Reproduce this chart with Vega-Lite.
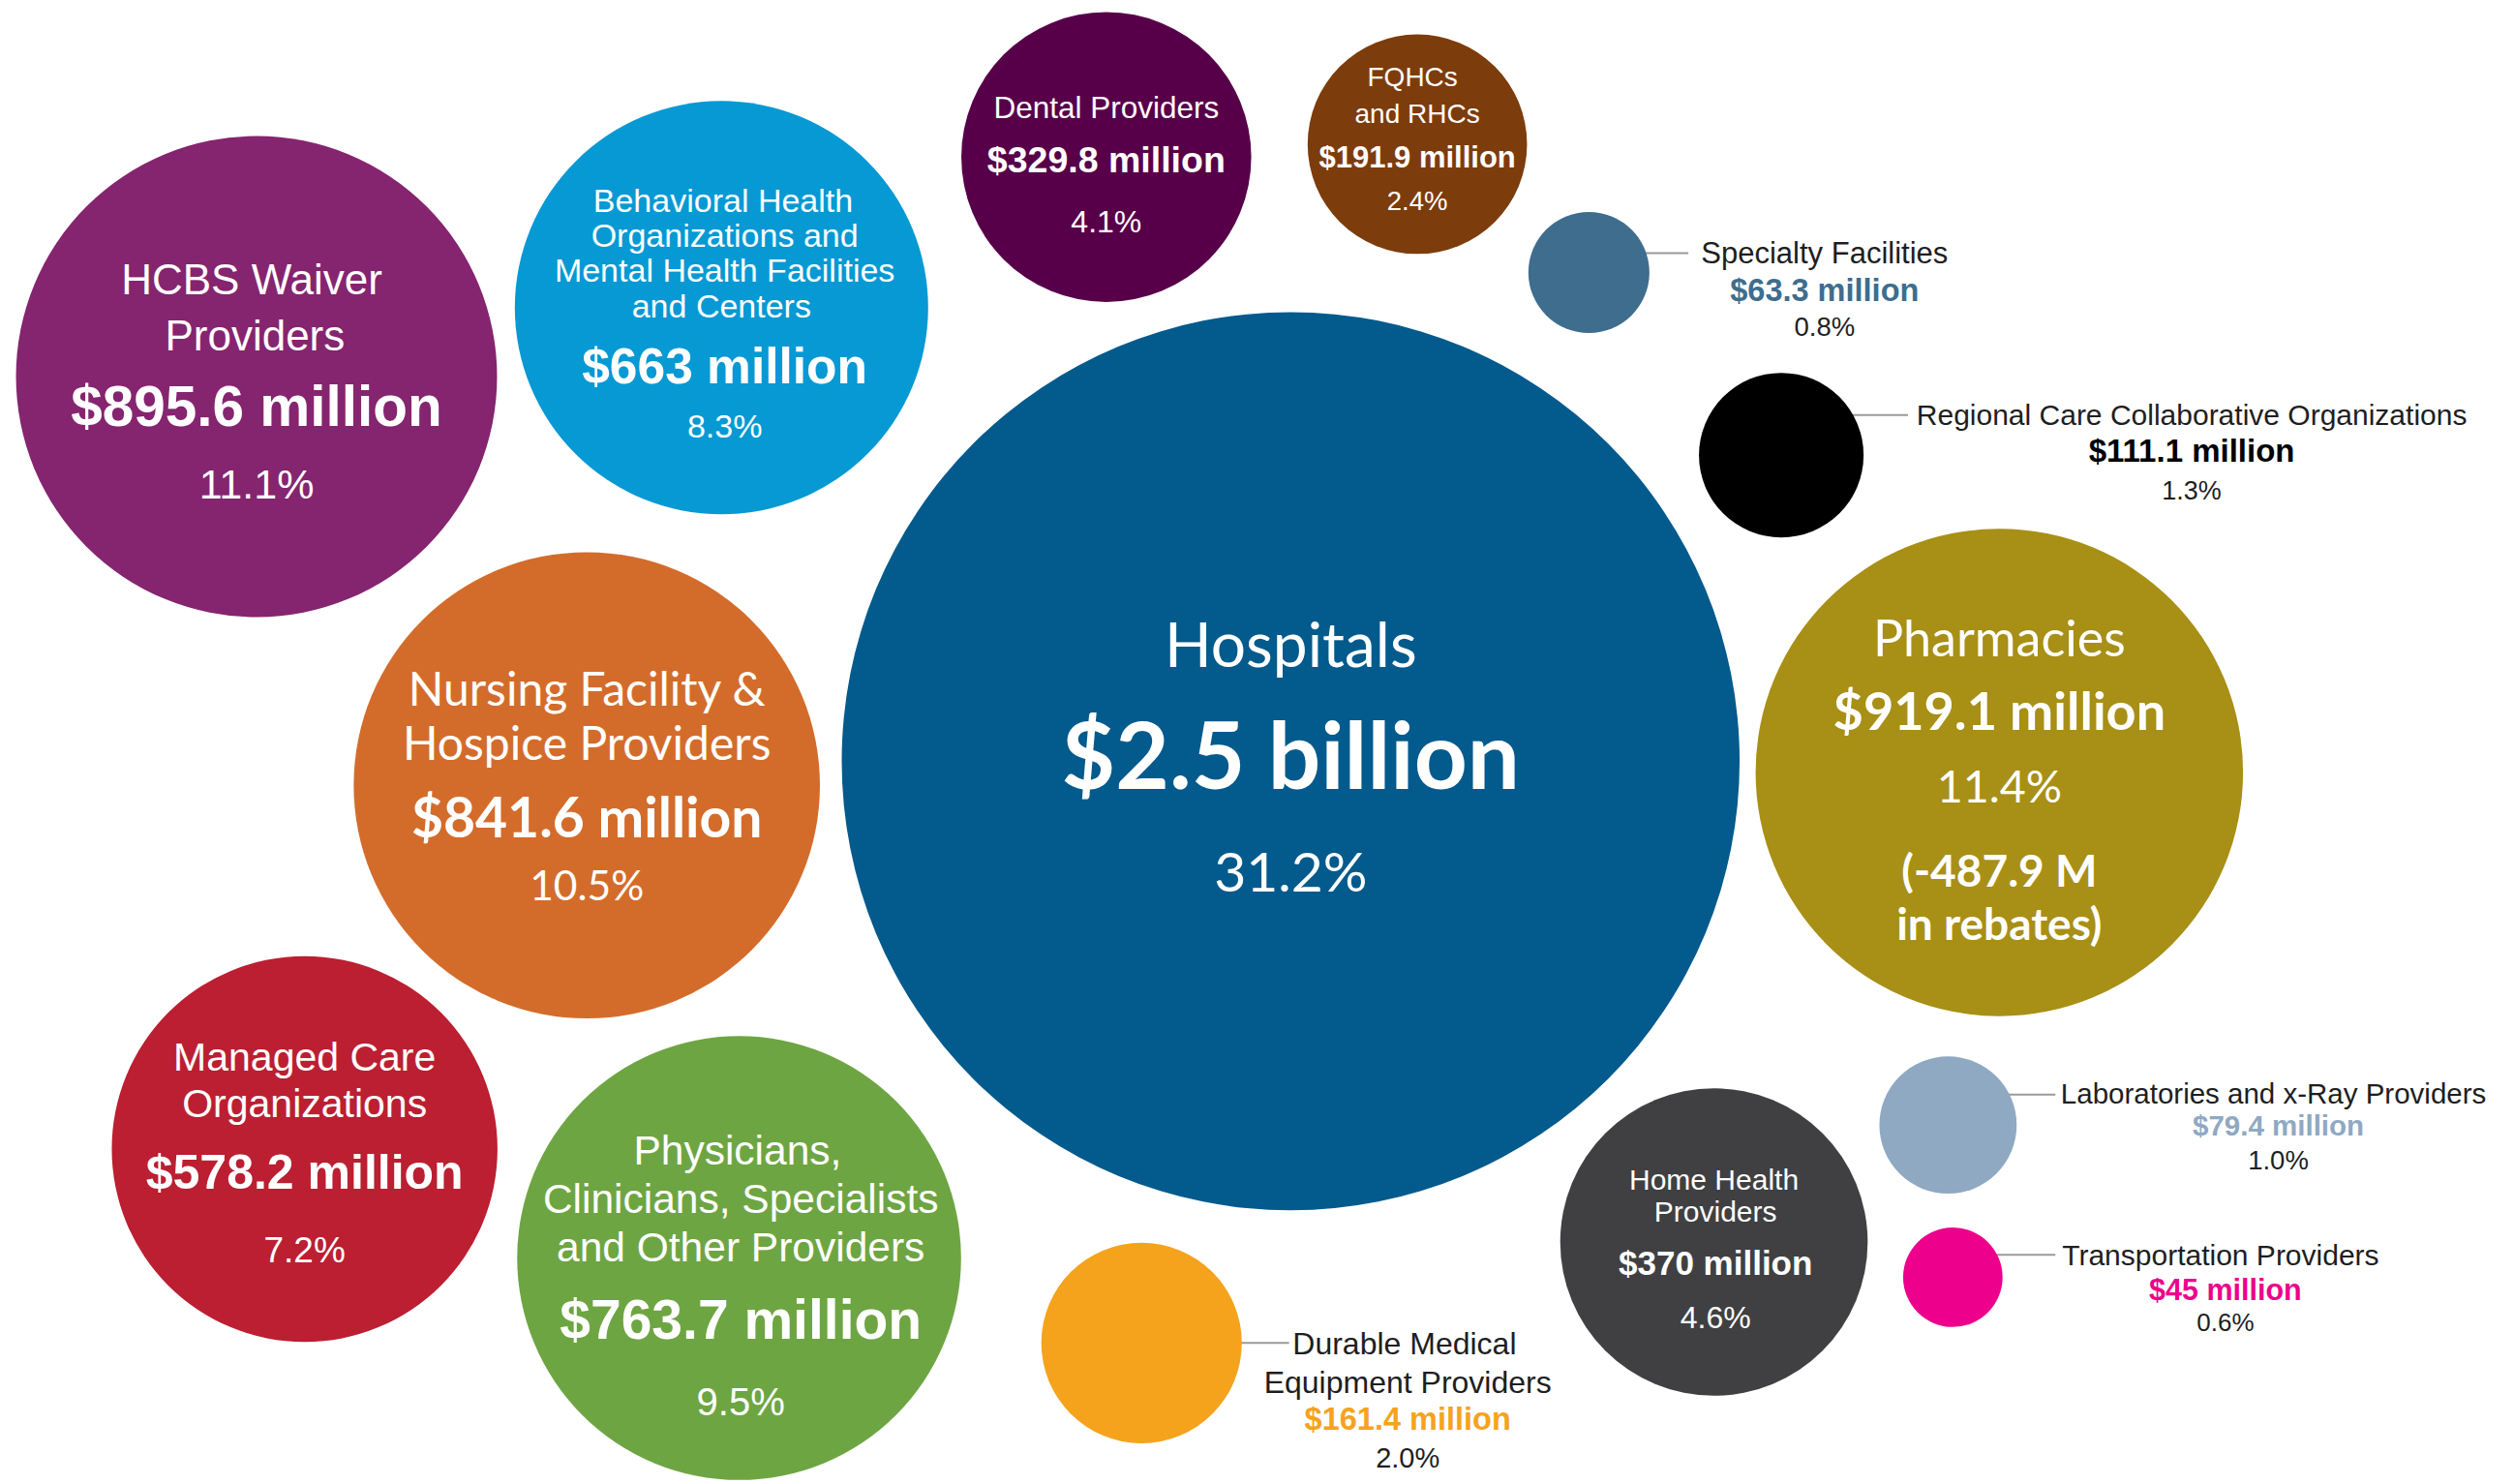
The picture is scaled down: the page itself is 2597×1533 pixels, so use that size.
{
  "$schema": "https://vega.github.io/schema/vega-lite/v6.json",
  "autosize": {"type": "fit", "contains": "padding"},
  "width": 2597,
  "height": 1533,
  "padding": 0,
  "background": "white",
  "config": {"view": {"stroke": null}},
  "datasets": {
    "bubbles": [
      {"cat": "Hospitals", "amount": 2500, "share": 31.2, "x": 805, "y": 475},
      {"cat": "Pharmacies", "amount": 919.1, "share": 11.4, "x": 1247, "y": 482},
      {"cat": "HCBS", "amount": 895.6, "share": 11.1, "x": 160, "y": 235},
      {"cat": "Nursing", "amount": 841.6, "share": 10.5, "x": 366, "y": 490},
      {"cat": "Physicians", "amount": 763.7, "share": 9.5, "x": 461, "y": 785},
      {"cat": "Behavioral", "amount": 663, "share": 8.3, "x": 450, "y": 192},
      {"cat": "Managed Care", "amount": 578.2, "share": 7.2, "x": 190, "y": 717},
      {"cat": "Home Health", "amount": 370, "share": 4.6, "x": 1069, "y": 775},
      {"cat": "Dental", "amount": 329.8, "share": 4.1, "x": 690, "y": 98},
      {"cat": "FQHCs", "amount": 191.9, "share": 2.4, "x": 884, "y": 90},
      {"cat": "DME", "amount": 161.4, "share": 2.0, "x": 712, "y": 838},
      {"cat": "RCCO", "amount": 111.1, "share": 1.3, "x": 1111, "y": 284},
      {"cat": "Labs", "amount": 79.4, "share": 1.0, "x": 1215, "y": 702},
      {"cat": "Specialty", "amount": 63.3, "share": 0.8, "x": 991, "y": 170},
      {"cat": "Transport", "amount": 45, "share": 0.6, "x": 1218, "y": 797}
    ],
    "leaders": [
      {"cat": "Specialty", "x": 991, "x2": 1053, "y": 158},
      {"cat": "RCCO", "x": 1111, "x2": 1190, "y": 259},
      {"cat": "DME", "x": 712, "x2": 804, "y": 838},
      {"cat": "Labs", "x": 1215, "x2": 1282, "y": 683},
      {"cat": "Transport", "x": 1218, "x2": 1282, "y": 783}
    ],
    "labels": [
      {"cat": "HCBS", "part": "name", "text": "HCBS Waiver", "x": 157, "y": 176},
      {"cat": "HCBS", "part": "name", "text": "Providers", "x": 159, "y": 211},
      {"cat": "HCBS", "part": "amount", "text": "$895.6 million", "x": 160, "y": 255},
      {"cat": "HCBS", "part": "pct", "text": "11.1%", "x": 160, "y": 303},
      {"cat": "Behavioral", "part": "name", "text": "Behavioral Health", "x": 451, "y": 126},
      {"cat": "Behavioral", "part": "name", "text": "Organizations and", "x": 452, "y": 148},
      {"cat": "Behavioral", "part": "name", "text": "Mental Health Facilities", "x": 452, "y": 170},
      {"cat": "Behavioral", "part": "name", "text": "and  Centers", "x": 450, "y": 192},
      {"cat": "Behavioral", "part": "amount", "text": "$663 million", "x": 452, "y": 230},
      {"cat": "Behavioral", "part": "pct", "text": "8.3%", "x": 452, "y": 267},
      {"cat": "Dental", "part": "name", "text": "Dental Providers", "x": 690, "y": 68},
      {"cat": "Dental", "part": "amount", "text": "$329.8 million", "x": 690, "y": 101},
      {"cat": "Dental", "part": "pct", "text": "4.1%", "x": 690, "y": 139},
      {"cat": "FQHCs", "part": "name", "text": "FQHCs", "x": 881, "y": 49},
      {"cat": "FQHCs", "part": "name", "text": "and RHCs", "x": 884, "y": 72},
      {"cat": "FQHCs", "part": "amount", "text": "$191.9 million", "x": 884, "y": 99},
      {"cat": "FQHCs", "part": "pct", "text": "2.4%", "x": 884, "y": 126},
      {"cat": "Specialty", "part": "name", "text": "Specialty Facilities", "x": 1138, "y": 159},
      {"cat": "Specialty", "part": "amount", "text": "$63.3 million", "x": 1138, "y": 182},
      {"cat": "Specialty", "part": "pct", "text": "0.8%", "x": 1138, "y": 205},
      {"cat": "RCCO", "part": "name", "text": "Regional Care Collaborative Organizations", "x": 1367, "y": 260},
      {"cat": "RCCO", "part": "amount", "text": "$111.1 million", "x": 1367, "y": 282},
      {"cat": "RCCO", "part": "pct", "text": "1.3%", "x": 1367, "y": 307},
      {"cat": "Hospitals", "part": "name", "text": "Hospitals", "x": 805, "y": 405},
      {"cat": "Hospitals", "part": "amount", "text": "$2.5 billion", "x": 805, "y": 475},
      {"cat": "Hospitals", "part": "pct", "text": "31.2%", "x": 805, "y": 546},
      {"cat": "Pharmacies", "part": "name", "text": "Pharmacies", "x": 1247, "y": 400},
      {"cat": "Pharmacies", "part": "amount", "text": "$919.1 million", "x": 1247, "y": 446},
      {"cat": "Pharmacies", "part": "pct", "text": "11.4%", "x": 1247, "y": 492},
      {"cat": "Pharmacies", "part": "note", "text": "(-487.9 M", "x": 1247, "y": 545},
      {"cat": "Pharmacies", "part": "note", "text": "in rebates)", "x": 1247, "y": 578},
      {"cat": "Nursing", "part": "name", "text": "Nursing Facility &", "x": 366, "y": 432},
      {"cat": "Nursing", "part": "name", "text": "Hospice Providers", "x": 366, "y": 466},
      {"cat": "Nursing", "part": "amount", "text": "$841.6 million", "x": 366, "y": 512},
      {"cat": "Nursing", "part": "pct", "text": "10.5%", "x": 366, "y": 554},
      {"cat": "Managed Care", "part": "name", "text": "Managed Care", "x": 190, "y": 661},
      {"cat": "Managed Care", "part": "name", "text": "Organizations", "x": 190, "y": 690},
      {"cat": "Managed Care", "part": "amount", "text": "$578.2 million", "x": 190, "y": 733},
      {"cat": "Managed Care", "part": "pct", "text": "7.2%", "x": 190, "y": 781},
      {"cat": "Physicians", "part": "name", "text": "Physicians,", "x": 460, "y": 719},
      {"cat": "Physicians", "part": "name", "text": "Clinicians, Specialists", "x": 462, "y": 749},
      {"cat": "Physicians", "part": "name", "text": "and Other Providers", "x": 462, "y": 779},
      {"cat": "Physicians", "part": "amount", "text": "$763.7 million", "x": 462, "y": 825},
      {"cat": "Physicians", "part": "pct", "text": "9.5%", "x": 462, "y": 876},
      {"cat": "DME", "part": "name", "text": "Durable Medical", "x": 876, "y": 839},
      {"cat": "DME", "part": "name", "text": "Equipment Providers", "x": 878, "y": 863},
      {"cat": "DME", "part": "amount", "text": "$161.4 million", "x": 878, "y": 886},
      {"cat": "DME", "part": "pct", "text": "2.0%", "x": 878, "y": 910},
      {"cat": "Home Health", "part": "name", "text": "Home Health", "x": 1069, "y": 737},
      {"cat": "Home Health", "part": "name", "text": "Providers", "x": 1070, "y": 757},
      {"cat": "Home Health", "part": "amount", "text": "$370 million", "x": 1070, "y": 789},
      {"cat": "Home Health", "part": "pct", "text": "4.6%", "x": 1070, "y": 823},
      {"cat": "Labs", "part": "name", "text": "Laboratories and x-Ray Providers", "x": 1418, "y": 683},
      {"cat": "Labs", "part": "amount", "text": "$79.4 million", "x": 1421, "y": 703},
      {"cat": "Labs", "part": "pct", "text": "1.0%", "x": 1421, "y": 725},
      {"cat": "Transport", "part": "name", "text": "Transportation Providers", "x": 1385, "y": 784},
      {"cat": "Transport", "part": "amount", "text": "$45 million", "x": 1388, "y": 806},
      {"cat": "Transport", "part": "pct", "text": "0.6%", "x": 1388, "y": 826}
    ]
  },
  "encoding": {
    "x": {"field": "x", "type": "quantitative", "axis": null, "scale": {"domain": [0, 1568], "nice": false, "zero": false}},
    "y": {"field": "y", "type": "quantitative", "axis": null, "scale": {"domain": [0, 926], "nice": false, "zero": false, "reverse": true}}
  },
  "layer": [
    {
      "data": {"name": "leaders"},
      "mark": {"type": "rule", "color": "#9a9a9a", "strokeWidth": 2},
      "encoding": {"x2": {"field": "x2"}}
    },
    {
      "data": {"name": "bubbles"},
      "mark": {"type": "circle", "opacity": 1},
      "encoding": {
        "size": {"field": "amount", "type": "quantitative", "legend": null, "scale": {"type": "linear", "zero": false, "domain": [45, 919.1, 2500], "range": [10547, 253500, 860300]}},
        "color": {"field": "cat", "type": "nominal", "legend": null, "scale": {
          "domain": ["Hospitals", "Pharmacies", "HCBS", "Nursing", "Physicians", "Behavioral", "Managed Care", "Home Health", "Dental", "FQHCs", "DME", "RCCO", "Labs", "Specialty", "Transport"],
          "range": ["#035a8c", "#a88f16", "#85246f", "#d36c2b", "#6ea543", "#0699d4", "#bb1f31", "#404042", "#570049", "#7d3c0c", "#f5a31d", "#000000", "#8fa9c3", "#3e6d8e", "#ec008c"]}}
      }
    },
    {
      "data": {"name": "labels"},
      "transform": [
        {"filter": {"field": "part", "equal": "name"}},
        {"filter": {"field": "cat", "oneOf": ["HCBS", "Behavioral", "Dental", "FQHCs", "Managed Care", "Physicians", "Home Health"]}},
        {"lookup": "cat", "from": {"data": {"name": "bubbles"}, "key": "cat", "fields": ["amount"]}}
      ],
      "mark": {"type": "text", "font": "Liberation Sans", "color": "white", "baseline": "middle", "align": "center"},
      "encoding": {
        "text": {"field": "text"},
        "size": {"field": "amount", "type": "quantitative", "legend": null, "scale": {"type": "threshold", "domain": [50, 70, 95, 135, 175, 260, 350, 470, 620, 710, 800, 870, 905, 1500], "range": [30, 31, 29.5, 30, 32, 28, 31.5, 30, 41, 34, 42.5, 48, 44, 52, 64]}}
      }
    },
    {
      "data": {"name": "labels"},
      "transform": [
        {"filter": {"field": "part", "equal": "amount"}},
        {"filter": {"field": "cat", "oneOf": ["HCBS", "Behavioral", "Dental", "FQHCs", "Managed Care", "Physicians", "Home Health"]}},
        {"lookup": "cat", "from": {"data": {"name": "bubbles"}, "key": "cat", "fields": ["amount"]}}
      ],
      "mark": {"type": "text", "font": "Liberation Sans", "fontWeight": "bold", "color": "white", "baseline": "middle", "align": "center"},
      "encoding": {
        "text": {"field": "text"},
        "size": {"field": "amount", "type": "quantitative", "legend": null, "scale": {"type": "threshold", "domain": [50, 70, 95, 135, 175, 260, 350, 470, 620, 710, 800, 870, 905, 1500], "range": [30.5, 32.5, 29.5, 33, 32.5, 31, 37.5, 35, 50, 51.5, 57, 57, 58.5, 53, 95]}}
      }
    },
    {
      "data": {"name": "labels"},
      "transform": [
        {"filter": {"field": "part", "equal": "pct"}},
        {"filter": {"field": "cat", "oneOf": ["HCBS", "Behavioral", "Dental", "FQHCs", "Managed Care", "Physicians", "Home Health"]}},
        {"lookup": "cat", "from": {"data": {"name": "bubbles"}, "key": "cat", "fields": ["amount"]}}
      ],
      "mark": {"type": "text", "font": "Liberation Sans", "color": "white", "baseline": "middle", "align": "center"},
      "encoding": {
        "text": {"field": "text"},
        "size": {"field": "amount", "type": "quantitative", "legend": null, "scale": {"type": "threshold", "domain": [50, 70, 95, 135, 175, 260, 350, 470, 620, 710, 800, 870, 905, 1500], "range": [26, 27.5, 27.5, 27, 29, 27.5, 32, 32, 37, 34, 40, 42.5, 43, 46.5, 57]}}
      }
    },
    {
      "data": {"name": "labels"},
      "transform": [
        {"filter": {"field": "part", "equal": "name"}},
        {"filter": {"field": "cat", "oneOf": ["Hospitals", "Pharmacies", "Nursing"]}},
        {"lookup": "cat", "from": {"data": {"name": "bubbles"}, "key": "cat", "fields": ["amount"]}}
      ],
      "mark": {"type": "text", "font": "Lato", "color": "white", "baseline": "middle", "align": "center"},
      "encoding": {
        "text": {"field": "text"},
        "size": {"field": "amount", "type": "quantitative", "legend": null, "scale": {"type": "threshold", "domain": [50, 70, 95, 135, 175, 260, 350, 470, 620, 710, 800, 870, 905, 1500], "range": [30, 31, 29.5, 30, 32, 28, 31.5, 30, 41, 34, 42.5, 48, 44, 52, 64]}}
      }
    },
    {
      "data": {"name": "labels"},
      "transform": [
        {"filter": {"field": "part", "equal": "amount"}},
        {"filter": {"field": "cat", "oneOf": ["Hospitals", "Pharmacies", "Nursing"]}},
        {"lookup": "cat", "from": {"data": {"name": "bubbles"}, "key": "cat", "fields": ["amount"]}}
      ],
      "mark": {"type": "text", "font": "Lato", "fontWeight": "bold", "color": "white", "baseline": "middle", "align": "center"},
      "encoding": {
        "text": {"field": "text"},
        "size": {"field": "amount", "type": "quantitative", "legend": null, "scale": {"type": "threshold", "domain": [50, 70, 95, 135, 175, 260, 350, 470, 620, 710, 800, 870, 905, 1500], "range": [30.5, 32.5, 29.5, 33, 32.5, 31, 37.5, 35, 50, 51.5, 57, 57, 58.5, 54, 96]}}
      }
    },
    {
      "data": {"name": "labels"},
      "transform": [
        {"filter": {"field": "part", "equal": "note"}}
      ],
      "mark": {"type": "text", "font": "Lato", "fontWeight": "bold", "color": "white", "baseline": "middle", "align": "center", "fontSize": 46},
      "encoding": {
        "text": {"field": "text"}
      }
    },
    {
      "data": {"name": "labels"},
      "transform": [
        {"filter": {"field": "part", "equal": "pct"}},
        {"filter": {"field": "cat", "oneOf": ["Hospitals", "Pharmacies", "Nursing"]}},
        {"lookup": "cat", "from": {"data": {"name": "bubbles"}, "key": "cat", "fields": ["amount"]}}
      ],
      "mark": {"type": "text", "font": "Lato", "color": "white", "baseline": "middle", "align": "center"},
      "encoding": {
        "text": {"field": "text"},
        "size": {"field": "amount", "type": "quantitative", "legend": null, "scale": {"type": "threshold", "domain": [50, 70, 95, 135, 175, 260, 350, 470, 620, 710, 800, 870, 905, 1500], "range": [26, 27.5, 27.5, 27, 29, 27.5, 32, 32, 37, 34, 40, 42.5, 43, 46.5, 57]}}
      }
    },
    {
      "data": {"name": "labels"},
      "transform": [
        {"filter": {"field": "part", "equal": "name"}},
        {"filter": {"field": "cat", "oneOf": ["Specialty", "RCCO", "Labs", "Transport", "DME"]}},
        {"lookup": "cat", "from": {"data": {"name": "bubbles"}, "key": "cat", "fields": ["amount"]}}
      ],
      "mark": {"type": "text", "font": "Liberation Sans", "color": "#1e1e1e", "baseline": "middle", "align": "center"},
      "encoding": {
        "text": {"field": "text"},
        "size": {"field": "amount", "type": "quantitative", "legend": null, "scale": {"type": "threshold", "domain": [50, 70, 95, 135, 175, 260, 350, 470, 620, 710, 800, 870, 905, 1500], "range": [30, 31, 29.5, 30, 32, 28, 31.5, 30, 41, 34, 42.5, 48, 44, 52, 64]}}
      }
    },
    {
      "data": {"name": "labels"},
      "transform": [
        {"filter": {"field": "part", "equal": "amount"}},
        {"filter": {"field": "cat", "oneOf": ["Specialty", "RCCO", "Labs", "Transport", "DME"]}},
        {"lookup": "cat", "from": {"data": {"name": "bubbles"}, "key": "cat", "fields": ["amount"]}}
      ],
      "mark": {"type": "text", "font": "Liberation Sans", "fontWeight": "bold", "baseline": "middle", "align": "center"},
      "encoding": {
        "text": {"field": "text"},
        "color": {"field": "cat", "type": "nominal", "legend": null},
        "size": {"field": "amount", "type": "quantitative", "legend": null, "scale": {"type": "threshold", "domain": [50, 70, 95, 135, 175, 260, 350, 470, 620, 710, 800, 870, 905, 1500], "range": [30.5, 32.5, 29.5, 33, 32.5, 31, 37.5, 35, 50, 51.5, 57, 57, 58.5, 52, 95]}}
      }
    },
    {
      "data": {"name": "labels"},
      "transform": [
        {"filter": {"field": "part", "equal": "pct"}},
        {"filter": {"field": "cat", "oneOf": ["Specialty", "RCCO", "Labs", "Transport", "DME"]}},
        {"lookup": "cat", "from": {"data": {"name": "bubbles"}, "key": "cat", "fields": ["amount"]}}
      ],
      "mark": {"type": "text", "font": "Liberation Sans", "color": "#1e1e1e", "baseline": "middle", "align": "center"},
      "encoding": {
        "text": {"field": "text"},
        "size": {"field": "amount", "type": "quantitative", "legend": null, "scale": {"type": "threshold", "domain": [50, 70, 95, 135, 175, 260, 350, 470, 620, 710, 800, 870, 905, 1500], "range": [26, 27.5, 27.5, 27, 29, 27.5, 32, 32, 37, 34, 40, 42.5, 43, 46.5, 57]}}
      }
    }
  ],
  "resolve": {"scale": {"size": "independent"}}
}
